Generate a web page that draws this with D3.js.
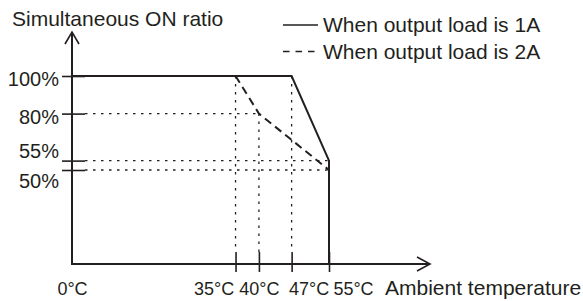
<!DOCTYPE html>
<html>
<head>
<meta charset="utf-8">
<script src="https://cdn.jsdelivr.net/npm/d3@7"></script>
<style>
  body { margin: 0; background: #fff; }
  text { font-family: "Liberation Sans", Arial, sans-serif; fill: #231f20; }
</style>
</head>
<body>
<script>
// chart values
const tempTicks = [0, 35, 40, 47, 55];
const ratioTicks = [100, 80, 55, 50];
const load1A = [[0, 100], [47, 100], [55, 55], [55, 0]];
const load2A = [[35, 100], [40, 80], [55, 50]];
const legendLabels = ["When output load is 1A", "When output load is 2A"];
// dotted guide lines
const hGuides = [[80, 40], [55, 55], [50, 55]]; // ratio, up to temp
const vGuides = [[35, 100], [40, 80], [47, 100]]; // temp, from ratio

const width = 583, height = 301;
const ink = "#231f20";

const x = d3.scaleLinear().domain([0, 55]).range([72, 329]);
const y = d3.scaleLinear().domain([0, 100]).range([264, 76]);

const svg = d3.select("body").append("svg")
  .attr("width", width)
  .attr("height", height);

// guides
const guides = svg.append("g")
  .attr("stroke", ink)
  .attr("stroke-width", 1.3)
  .attr("stroke-dasharray", "2.5,5.5")
  .attr("fill", "none");
guides.selectAll(".hg").data(hGuides).join("line")
  .attr("x1", x(0) + 13).attr("x2", d => x(d[1]))
  .attr("y1", d => y(d[0])).attr("y2", d => y(d[0]));
guides.selectAll(".vg").data(vGuides).join("line")
  .attr("x1", d => x(d[0])).attr("x2", d => x(d[0]))
  .attr("y1", d => y(d[1])).attr("y2", y(0) - 12);

// axes
const yAxis = d3.axisLeft(y).tickValues(ratioTicks).tickSize(10).tickPadding(3)
  .tickFormat(d => d + "%");
const gy = svg.append("g").attr("transform", `translate(${x(0)},0)`).call(yAxis);
gy.select(".domain").remove();
gy.selectAll(".tick line").attr("x1", 13).attr("stroke", ink).attr("stroke-width", 1.6);
gy.selectAll(".tick text")
  .attr("font-size", 20)
  .attr("font-family", null)
  .attr("dy", d => ({100: "0.45em", 80: "0.5em", 55: "-0.15em", 50: "0.85em"})[d]);

const xAxis = d3.axisBottom(x).tickValues(tempTicks).tickSize(8).tickPadding(10)
  .tickFormat(d => d + "°C");
const gx = svg.append("g").attr("transform", `translate(0,${y(0)})`).call(xAxis);
gx.select(".domain").remove();
gx.selectAll(".tick line")
  .attr("y1", -12)
  .attr("stroke", ink).attr("stroke-width", 1.6)
  .attr("display", d => d === 0 ? "none" : null);
gx.selectAll(".tick text")
  .attr("font-size", 18)
  .attr("font-family", null)
  .attr("dx", d => ({0: 0, 35: -22, 40: 0, 47: 17, 55: 24})[d]);

// axis lines with open arrow heads
const axisPath = d3.path();
axisPath.moveTo(x(0), 32); axisPath.lineTo(x(0), y(0)); axisPath.lineTo(430, y(0));
svg.append("path").attr("d", axisPath.toString())
  .attr("fill", "none").attr("stroke", ink).attr("stroke-width", 2);
const arrows = d3.path();
arrows.moveTo(x(0) - 7, 44); arrows.lineTo(x(0), 32); arrows.lineTo(x(0) + 7, 44);
arrows.moveTo(417, y(0) - 7); arrows.lineTo(430, y(0)); arrows.lineTo(417, y(0) + 7);
svg.append("path").attr("d", arrows.toString())
  .attr("fill", "none").attr("stroke", ink).attr("stroke-width", 1.6);

// series
const line = d3.line().x(d => x(d[0])).y(d => y(d[1]));
svg.append("path").attr("d", line(load1A))
  .attr("fill", "none").attr("stroke", ink).attr("stroke-width", 2);
svg.append("path").attr("d", line(load2A))
  .attr("fill", "none").attr("stroke", ink).attr("stroke-width", 2)
  .attr("stroke-dasharray", "8,5");

// titles
svg.append("text").attr("x", 12).attr("y", 26).attr("font-size", 21)
  .text("Simultaneous ON ratio");
svg.append("text").attr("x", 385).attr("y", 295).attr("font-size", 21)
  .text("Ambient temperature");

// legend
const legend = svg.append("g");
legendLabels.forEach((label, i) => {
  const ly = 25 + i * 26.5;
  legend.append("line")
    .attr("x1", 283).attr("x2", 318).attr("y1", ly).attr("y2", ly)
    .attr("stroke", ink).attr("stroke-width", 1.6)
    .attr("stroke-dasharray", i === 1 ? "6.5,6" : null);
  legend.append("text").attr("x", 323).attr("y", ly + 7).attr("font-size", 21)
    .text(label);
});
</script>
</body>
</html>
